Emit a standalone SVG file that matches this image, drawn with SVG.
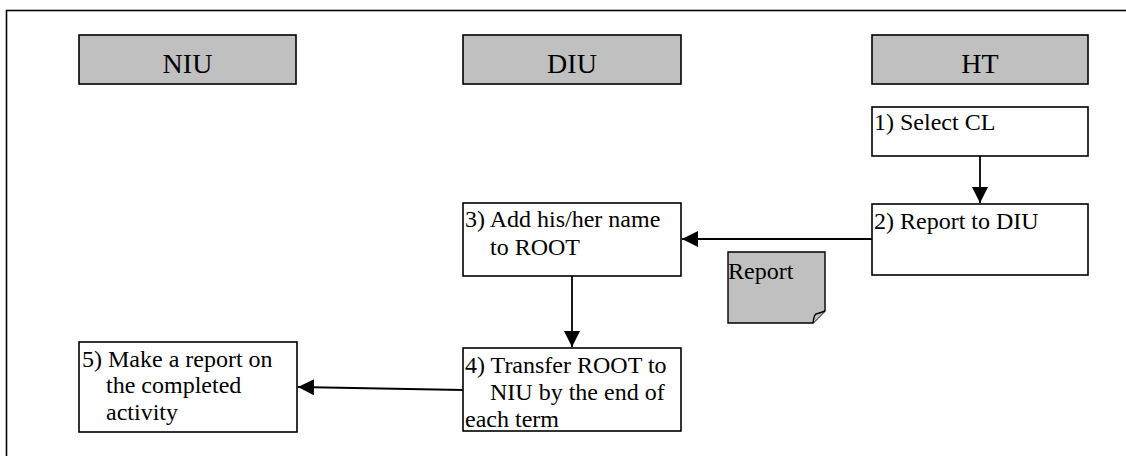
<svg xmlns="http://www.w3.org/2000/svg" width="1126" height="456" viewBox="0 0 1126 456">
  <defs>
    <style>
      .frame { fill: #ffffff; stroke: #000000; stroke-width: 1.6; }
      .head { fill: #c0c0c0; stroke: #000000; stroke-width: 1.6; }
      .step { fill: #ffffff; stroke: #000000; stroke-width: 1.6; }
      .doc { fill: #c0c0c0; stroke: #000000; stroke-width: 1.4; }
      text { font-family: 'Liberation Serif', 'DejaVu Serif', serif; fill: #000000; }
      .head-text { font-size: 28px; text-anchor: middle; }
      .txt { font-size: 24px; }
      .link { fill: none; stroke: #000000; stroke-width: 1.8; marker-end: url(#arrow); }
    </style>
    <marker id="arrow" markerUnits="userSpaceOnUse" viewBox="0 0 16 16" refX="16" refY="8" markerWidth="16" markerHeight="16" orient="auto">
      <path d="M0,0 L16,8 L0,16 Z" fill="#000000"/>
    </marker>
  </defs>

  <!-- outer frame, open past the right and bottom edges -->
  <rect class="frame" x="6.5" y="10.5" width="1140" height="470"/>

  <!-- lane headers -->
  <g id="lane-niu">
    <rect class="head" x="79" y="35" width="217" height="49"/>
    <text class="head-text" x="187.5" y="73">NIU</text>
  </g>
  <g id="lane-diu">
    <rect class="head" x="463" y="35" width="218" height="49"/>
    <text class="head-text" x="572" y="73">DIU</text>
  </g>
  <g id="lane-ht">
    <rect class="head" x="872" y="35" width="216" height="49"/>
    <text class="head-text" x="980" y="73">HT</text>
  </g>

  <!-- steps -->
  <g id="step1">
    <rect class="step" x="872" y="107" width="216" height="49"/>
    <text class="txt" x="874" y="130">1) Select CL</text>
  </g>
  <g id="step2">
    <rect class="step" x="872" y="204" width="216" height="71"/>
    <text class="txt" x="874" y="229">2) Report to DIU</text>
  </g>
  <g id="step3">
    <rect class="step" x="463" y="203" width="218" height="73"/>
    <text class="txt" x="465" y="227">3) Add his/her name</text>
    <text class="txt" x="490" y="255">to ROOT</text>
  </g>
  <g id="step4">
    <rect class="step" x="463" y="348" width="218" height="83"/>
    <text class="txt" x="465" y="373">4) Transfer ROOT to</text>
    <text class="txt" x="490" y="400">NIU by the end of</text>
    <text class="txt" x="465" y="427">each term</text>
  </g>
  <g id="step5">
    <rect class="step" x="79" y="342" width="218" height="90"/>
    <text class="txt" x="82" y="367">5) Make a report on</text>
    <text class="txt" x="106" y="393">the completed</text>
    <text class="txt" x="106" y="420">activity</text>
  </g>

  <!-- report document -->
  <g id="report-doc">
    <path class="doc" d="M728,252 H825 V311 L813,323 H728 Z"/>
    <path class="doc" d="M813,323 Q814,315 816,314 Q820,313 825,311"/>
    <text class="txt" x="728" y="279">Report</text>
  </g>

  <!-- connectors -->
  <g id="connectors">
    <line class="link" x1="980" y1="156" x2="980" y2="203"/>
    <line class="link" x1="872" y1="239" x2="682" y2="239"/>
    <line class="link" x1="572" y1="276" x2="572" y2="347"/>
    <line class="link" x1="463" y1="390" x2="298" y2="387"/>
  </g>
</svg>
